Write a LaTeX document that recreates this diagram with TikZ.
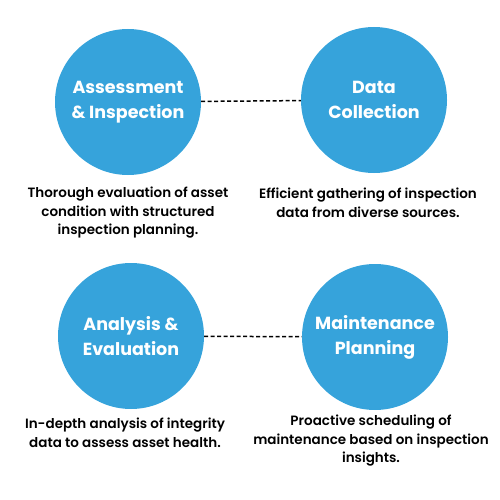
\documentclass[tikz,border=0pt]{standalone}
\usepackage{fontspec}
\setmainfont{Poppins}
\newfontfamily\titlefont{Poppins Bold}
\newfontfamily\descfont{Poppins SemiBold}
\usetikzlibrary{positioning}
\definecolor{stageColor}{HTML}{36A3DB}

\begin{document}
\begin{tikzpicture}[x=1pt,y=-1pt]

  \tikzstyle{stage} = [circle, fill=stageColor, minimum size=146pt, inner sep=0pt, text=white, align=center, font=\titlefont\fontsize{17.5}{25}\selectfont];
  \tikzstyle{desc} = [align=center, anchor=north, inner sep=0pt, font=\descfont\fontsize{13.5}{18.5}\selectfont];
  \tikzstyle{link} = [line width=1.5pt, dash pattern=on 4pt off 2.5pt];

  \useasboundingbox (0,0) rectangle (500,500);

  \node[stage] (assess)  at (128,102) {Assessment\\\& Inspection};
  \node[stage] (collect) at (374,100) {Data\\Collection};
  \node[stage] (analyse) at (131,336) {Analysis \&\\Evaluation};
  \node[stage] (plan)    at (375,337) {Maintenance\\Planning};

  \node[desc] (assessText)  at (128,187) {Thorough evaluation of asset\\condition with structured\\inspection planning.};
  \node[desc] (collectText) at (368,188) {Efficient gathering of inspection\\data from diverse sources.};
  \node[desc] (analyseText) at (125,418) {In-depth analysis of integrity\\data to assess asset health.};
  \node[desc] (planText)    at (371,415) {Proactive scheduling of\\maintenance based on inspection\\insights.};

  \draw[link] (assess) -- (collect);
  \draw[link] (analyse) -- (plan);
\end{tikzpicture}
\end{document}
